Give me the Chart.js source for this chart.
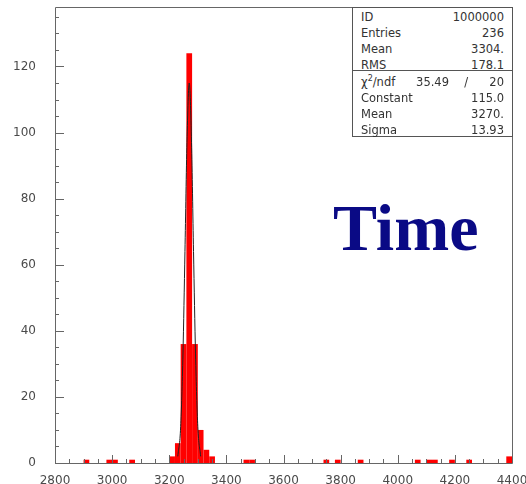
<!DOCTYPE html>
<html>
<head>
<meta charset="utf-8">
<script src="https://cdn.jsdelivr.net/npm/chart.js@4"></script>
<style>
  html, body { margin: 0; padding: 0; background: #fff; }
  #wrap { position: relative; width: 526px; height: 484px; }
  #stats {
    position: absolute; left: 352px; top: 7px; width: 161px; height: 130px;
    box-sizing: border-box; border: 1px solid #555; background: #fff;
    font-family: "DejaVu Sans", sans-serif; font-size: 11.5px; color: #333;
  }
  #stats .row { position: absolute; left: 8px; right: 8px; height: 16px; line-height: 16px; }
  #stats .row span.v { position: absolute; right: 0; top: 0; }
  #stats .sep { position: absolute; left: 0; right: 0; top: 62px; border-top: 1px solid #555; }
  #stats sup { font-size: 8px; line-height: 0; vertical-align: 5px; }
  #title {
    position: absolute; left: 333px; top: 195px; line-height: 66px;
    font-family: "Liberation Serif", serif; font-weight: bold; font-size: 66px; color: #0a0a85;
  }
</style>
</head>
<body>
<div id="wrap">
  <canvas id="histo"></canvas>
  <div id="stats"></div>
  <div id="title">Time</div>
</div>
<script>
// histogram: 80 bins of width 20 from 2800 to 4400
var binStart = 2800;
var binWidth = 20;
var counts = [
  0, 0, 0, 0, 0, 1, 0, 0, 0, 1,
  1, 0, 0, 1, 0, 0, 0, 0, 0, 0,
  2, 6, 36, 124, 36, 10, 4, 2, 0, 0,
  0, 0, 0, 1, 1, 0, 0, 0, 0, 0,
  0, 0, 0, 0, 0, 0, 0, 1, 0, 1,
  0, 0, 0, 1, 0, 0, 0, 0, 0, 0,
  0, 0, 0, 1, 0, 1, 1, 0, 0, 1,
  0, 0, 1, 0, 0, 0, 0, 0, 0, 2
];

// gaussian fit curve
var fitX = [3230, 3240, 3248, 3255, 3262, 3270, 3278, 3285, 3292, 3300, 3310];
var fitY = [2, 11, 33, 64, 97, 115, 97, 64, 33, 11, 2];

var xTicks = [2800, 3000, 3200, 3400, 3600, 3800, 4000, 4200, 4400];
var yTicks = [0, 20, 40, 60, 80, 100, 120];

var statsTop = [['ID', '1000000'], ['Entries', '236'], ['Mean', '3304.'], ['RMS', '178.1']];
var statsFit = [['Constant', '115.0'], ['Mean', '3270.'], ['Sigma', '13.93']];

(function () {
    var box = document.getElementById('stats');
    var html = '';
    statsTop.forEach(function (r, i) {
        html += '<div class="row" style="top:' + (1 + i * 16) + 'px">' + r[0] + '<span class="v">' + r[1] + '</span></div>';
    });
    html += '<div class="sep"></div>';
    html += '<div class="row" style="top:66px">&chi;<sup>2</sup>/ndf' +
        '<span style="position:absolute;right:55px">35.49</span>' +
        '<span style="position:absolute;right:36px">/</span>' +
        '<span class="v">20</span></div>';
    statsFit.forEach(function (r, i) {
        html += '<div class="row" style="top:' + (82 + i * 16) + 'px">' + r[0] + '<span class="v">' + r[1] + '</span></div>';
    });
    box.innerHTML = html;
})();

var barData = counts.map(function (c, i) {
    return { x: binStart + binWidth * i + binWidth / 2, y: c };
});
var fitData = fitX.map(function (x, i) { return { x: x, y: fitY[i] }; });

var axisColor = '#666';

var frameTicks = {
    id: 'frameTicks',
    afterDatasetsDraw: function (chart) {
        var ctx = chart.ctx, a = chart.chartArea;
        var xs = chart.scales.x, ys = chart.scales.y;
        ctx.save();
        ctx.strokeStyle = axisColor;
        ctx.lineWidth = 1;
        ctx.beginPath();
        ctx.rect(Math.round(a.left) + 0.5, Math.round(a.top) + 0.5,
            Math.round(a.right - a.left), Math.round(a.bottom - a.top));
        var v, p, len;
        for (v = 2800; v <= 4400; v += 50) {
            p = Math.round(xs.getPixelForValue(v)) + 0.5;
            len = (v % 200 === 0) ? 8 : 4;
            ctx.moveTo(p, a.bottom);
            ctx.lineTo(p, a.bottom - len);
        }
        for (v = 0; v <= 135; v += 5) {
            p = Math.round(ys.getPixelForValue(v)) + 0.5;
            len = (v % 20 === 0) ? 9 : 4;
            ctx.moveTo(a.left, p);
            ctx.lineTo(a.left + len, p);
        }
        ctx.stroke();
        ctx.restore();
    }
};

new Chart(document.getElementById('histo'), {
    type: 'bar',
    data: {
        datasets: [{
            type: 'line',
            data: fitData,
            borderColor: '#222',
            borderWidth: 1,
            pointRadius: 0,
            cubicInterpolationMode: 'monotone',
            fill: false,
            order: 1
        }, {
            data: barData,
            backgroundColor: '#ff0000',
            borderWidth: 0,
            inflateAmount: 0,
            barPercentage: 1,
            categoryPercentage: 1,
            order: 2
        }]
    },
    options: {
        responsive: true,
        maintainAspectRatio: false,
        animation: false,
        layout: { padding: { top: 7, right: 14, left: 0, bottom: 0 } },
        plugins: { legend: { display: false }, tooltip: { enabled: false } },
        scales: {
            x: {
                type: 'linear',
                offset: false,
                min: 2800,
                max: 4400,
                afterBuildTicks: function (s) { s.ticks = xTicks.map(function (v) { return { value: v }; }); },
                afterFit: function (s) { s.height = 21; s.paddingLeft = 0; s.paddingRight = 0; },
                grid: { display: false },
                border: { display: false },
                ticks: {
                    autoSkip: false, maxRotation: 0, padding: 3, color: '#4a4a4a',
                    font: { family: 'DejaVu Sans', size: 12 },
                    callback: function (v) { return String(v); }
                }
            },
            y: {
                min: 0,
                max: 138,
                afterBuildTicks: function (s) { s.ticks = yTicks.map(function (v) { return { value: v }; }); },
                afterFit: function (s) { s.width = 55; s.paddingTop = 0; s.paddingBottom = 0; },
                grid: { display: false },
                border: { display: false },
                ticks: {
                    autoSkip: false, padding: 11, color: '#4a4a4a',
                    font: { family: 'DejaVu Sans', size: 12 }
                }
            }
        }
    },
    plugins: [frameTicks]
});
</script>
</body>
</html>
